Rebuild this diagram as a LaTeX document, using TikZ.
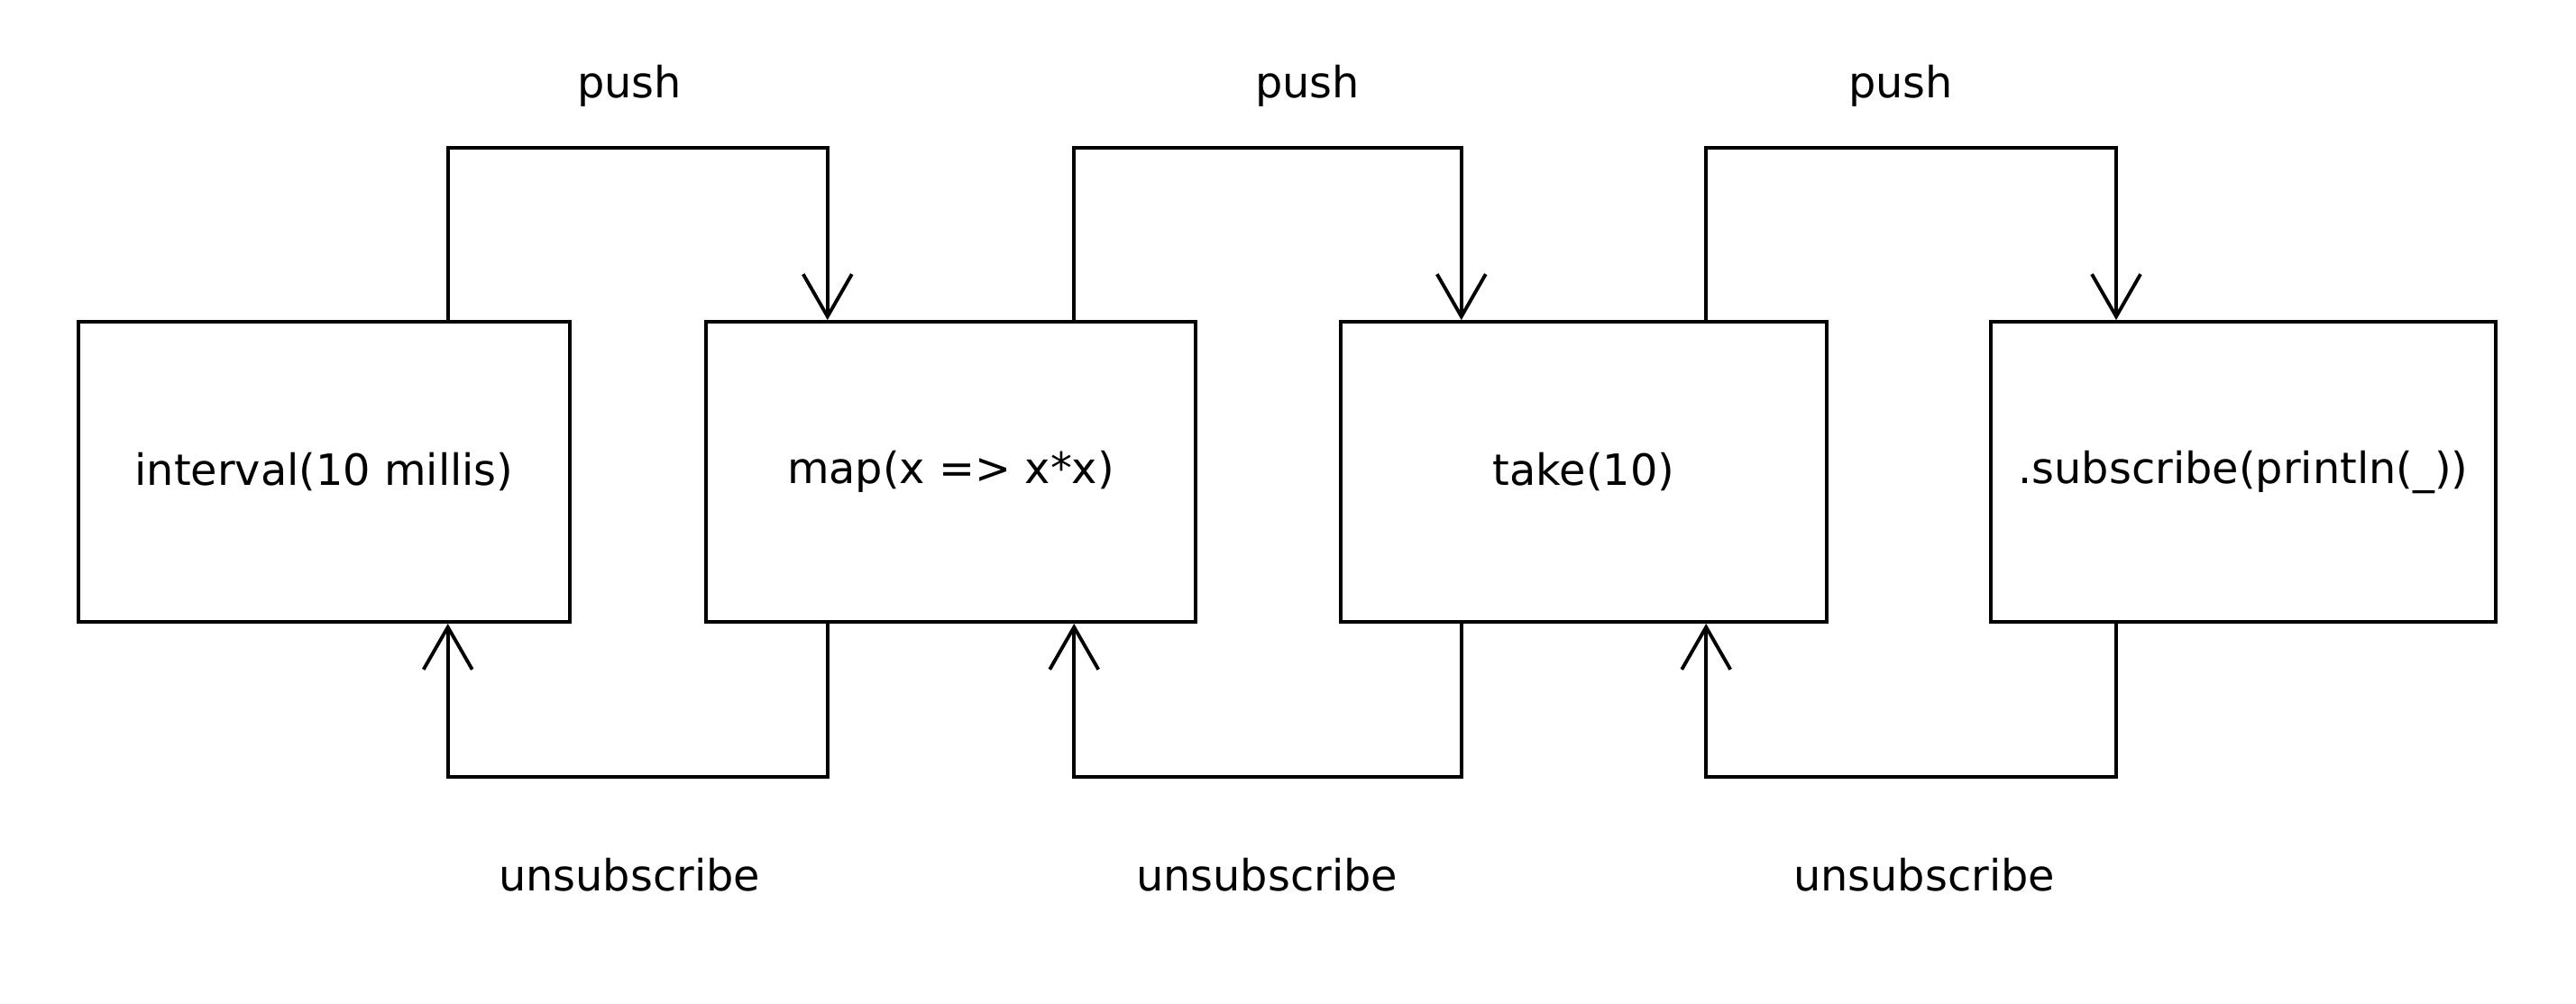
\documentclass[tikz,border=0pt]{standalone}
\usepackage{fontspec}
\setmainfont{DejaVu Sans}
\usetikzlibrary{arrows.meta,calc}
\tikzset{
  stage/.style={draw, line width=1.1pt, minimum height=3.33cm, inner sep=0pt, font=\fontsize{13.6}{16}\selectfont},
  flow/.style={line width=1.1pt, -{Straight Barb[length=4.7mm,width=5.4mm]}},
  lbl/.style={font=\fontsize{13.6}{16}\selectfont}
}
\begin{document}
\begin{tikzpicture}
        \useasboundingbox (0,0) rectangle (28.57,11.13);
        % Draw the four stages of the chain
        \node[stage, minimum width=5.45cm] (s1) at (3.595,5.895) {interval(10 millis)};
        \node[stage, minimum width=5.43cm] (s2) at (10.545,5.895) {map(x => x*x)};
        \node[stage, minimum width=5.39cm] (s3) at (17.565,5.895) {take(10)};
        \node[stage, minimum width=5.60cm] (s4) at (24.88,5.895) {.subscribe(println(\_))};
        % Connect each stage to the next one
        \foreach \i/\j/\px/\ux in {1/2/6.98/6.98, 2/3/14.50/14.05, 3/4/21.08/21.34} {
            \coordinate (out\i) at ($(s\i.north)!0.5!(s\i.north east)$);
            \coordinate (in\j) at ($(s\j.north west)!0.5!(s\j.north)$);
            \coordinate (up\i) at ($(s\i.south)!0.5!(s\i.south east)$);
            \coordinate (dn\j) at ($(s\j.south west)!0.5!(s\j.south)$);
            \draw[flow] (out\i) -- ++(0,1.91) -| (in\j);
            \draw[flow] (dn\j) -- ++(0,-1.70) -| (up\i);
            % Add the labels
            \node[lbl] (push\i) at (\px, 10.18) {push};
            \node[lbl] (unsub\i) at (\ux, 1.42) {unsubscribe};
        }
    \end{tikzpicture}
\end{document}
